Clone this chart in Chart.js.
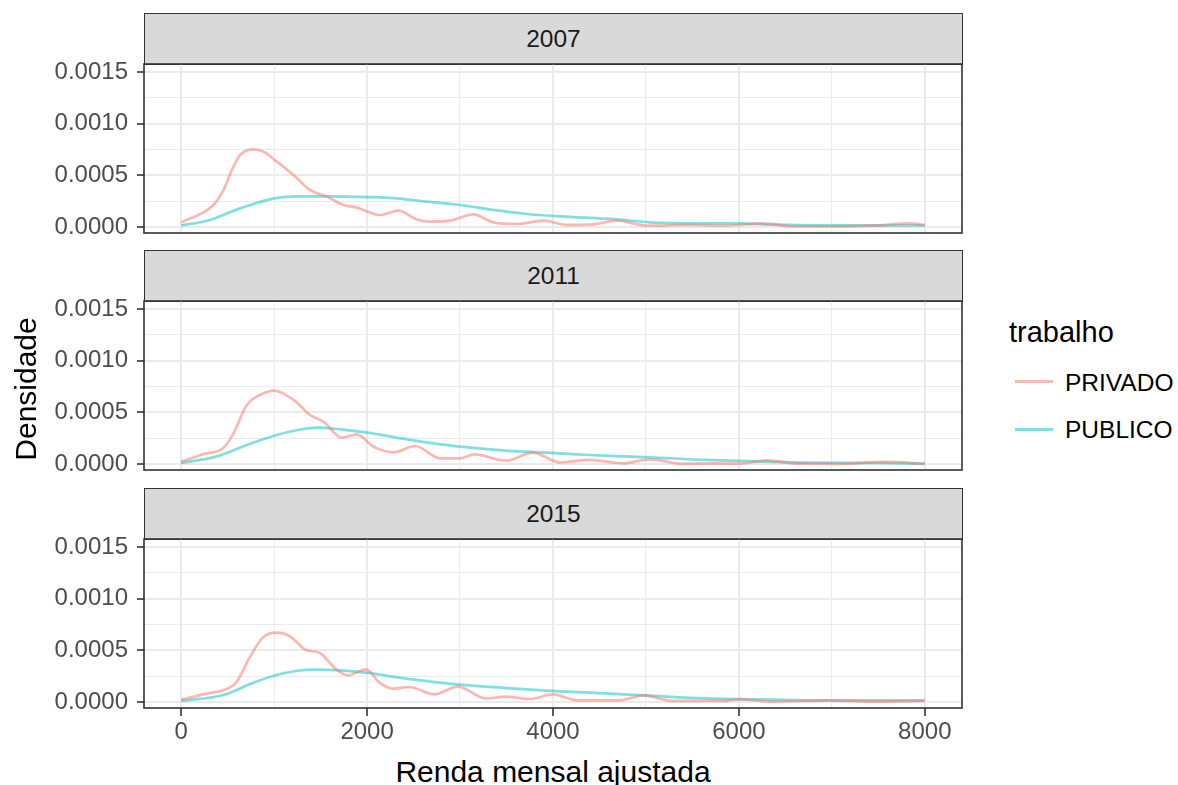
<!DOCTYPE html>
<html>
<head>
<meta charset="utf-8">
<script src="https://cdn.jsdelivr.net/npm/chart.js@4"></script>
<style>
  body { margin: 0; background: #fff; font-family: "Liberation Sans", Arial, sans-serif; }
  #wrap { position: relative; width: 1178px; height: 785px; overflow: hidden; }
  canvas { position: absolute; left: 0; }
  .strip { position: absolute; left: 144px; width: 817px; height: 50px; background: #d9d9d9;
    border: 1px solid #333; color: #1a1a1a; font-size: 24.5px; line-height: 50px; text-align: center; }
  .txt { position: absolute; white-space: nowrap; }
  .key { position: absolute; left: 1015px; width: 38px; height: 3px; }
</style>
</head>
<body>
<div id="wrap">
  <div class="strip" style="top:13px">2007</div>
  <div class="strip" style="top:250px">2011</div>
  <div class="strip" style="top:488px">2015</div>
  <canvas id="p0"></canvas>
  <canvas id="p1"></canvas>
  <canvas id="p2"></canvas>
  <div class="txt" style="left:-74px;top:374px;width:200px;height:30px;line-height:30px;text-align:center;font-size:30px;color:#000;transform:rotate(-90deg);">Densidade</div>
  <div class="txt" style="left:353px;top:757px;width:400px;line-height:30px;text-align:center;font-size:30px;color:#000;">Renda mensal ajustada</div>
  <div class="txt" style="left:1009px;top:318px;line-height:29px;font-size:29px;color:#000;">trabalho</div>
  <div class="key" style="top:379.5px;background:rgba(248,118,109,0.5)"></div>
  <div class="txt" style="left:1065px;top:371px;line-height:24.5px;font-size:24.5px;color:#000;">PRIVADO</div>
  <div class="key" style="top:428px;background:rgba(0,191,196,0.5)"></div>
  <div class="txt" style="left:1065px;top:418px;line-height:24.5px;font-size:24.5px;color:#000;">PUBLICO</div>
</div>
<script>
const years = ["2007", "2011", "2015"];
const seriesNames = ["PRIVADO", "PUBLICO"];

// densidade estimada
const priv2007X = [0, 347, 455, 545, 634, 778, 885, 1029, 1208, 1387, 1566, 1745, 1889, 2140, 2337, 2534, 2677, 2892, 3143, 3358, 3609, 3896, 4147, 4434, 4685, 5007, 5473, 5867, 6260, 6584, 7086, 7444, 7839, 8000];
const priv2007Y = [0.000045, 0.000213, 0.000358, 0.00055, 0.000697, 0.000752, 0.000729, 0.000632, 0.000503, 0.000358, 0.000294, 0.000213, 0.000187, 0.000116, 0.000158, 0.000074, 0.000052, 0.000061, 0.000123, 0.000045, 0.000029, 0.000061, 0.00002, 0.000026, 0.000061, 0.000013, 0.00002, 0.000013, 0.000035, 0.000006, 0.000006, 0.000013, 0.000035, 0.00002];
const publ2007X = [0, 269, 634, 1000, 1254, 1566, 2000, 2283, 2642, 3000, 3358, 3717, 4075, 4685, 5043, 5509, 6011, 6369, 6907, 7444, 8000];
const publ2007Y = [0.000016, 0.000058, 0.00018, 0.000277, 0.000297, 0.000297, 0.00029, 0.00028, 0.000245, 0.000213, 0.000165, 0.000126, 0.000103, 0.000074, 0.000045, 0.000035, 0.000035, 0.000023, 0.000016, 0.000016, 0.000016];

const priv2011X = [0, 233, 455, 563, 706, 849, 1000, 1208, 1387, 1530, 1728, 1889, 2068, 2283, 2516, 2785, 3000, 3154, 3495, 3781, 4075, 4398, 4756, 5043, 5401, 5760, 6011, 6297, 6656, 7086, 7588, 8000];
const priv2011Y = [0.000023, 0.000094, 0.000158, 0.000297, 0.000571, 0.000668, 0.00071, 0.00062, 0.000474, 0.00041, 0.000255, 0.000287, 0.000168, 0.000113, 0.000174, 0.000055, 0.000055, 0.000094, 0.000032, 0.00011, 0.000016, 0.000039, 0.000006, 0.000045, 0.000002, 0.000006, 0.000003, 0.000035, 0.000003, 0.000002, 0.00002, 0.000002];
const publ2011X = [0, 376, 706, 1000, 1254, 1470, 1720, 2000, 2427, 3000, 3495, 4075, 4398, 5043, 5652, 6190, 6728, 7444, 8000];
const publ2011Y = [0.00001, 0.000071, 0.000184, 0.000274, 0.000329, 0.000352, 0.000335, 0.000303, 0.000239, 0.000168, 0.000129, 0.000103, 0.000087, 0.000065, 0.000039, 0.000026, 0.000013, 0.00001, 0.000004];

const priv2015X = [0, 233, 484, 591, 735, 878, 1022, 1165, 1344, 1487, 1667, 1792, 1990, 2133, 2276, 2455, 2724, 2975, 3280, 3495, 3746, 4004, 4254, 4720, 4971, 5294, 5831, 6011, 6369, 6978, 7444, 8000];
const priv2015Y = [0.000023, 0.000074, 0.000123, 0.000187, 0.000429, 0.000623, 0.000671, 0.000639, 0.000503, 0.000477, 0.000316, 0.000258, 0.000316, 0.000187, 0.000129, 0.000145, 0.000074, 0.000148, 0.000035, 0.000052, 0.000029, 0.000074, 0.000016, 0.000016, 0.000065, 0.00001, 0.00001, 0.000026, 0.000003, 0.000016, 0.000003, 0.00001];
const publ2015X = [0, 455, 735, 985, 1236, 1452, 1703, 1990, 2419, 2993, 3495, 4075, 4398, 5043, 5652, 6369, 7086, 8000];
const publ2015Y = [0.00001, 0.000068, 0.000171, 0.000252, 0.0003, 0.000313, 0.000306, 0.000284, 0.000226, 0.000168, 0.000135, 0.000103, 0.00009, 0.000061, 0.000035, 0.000023, 0.000016, 0.000016];

const xTicks = [0, 2000, 4000, 6000, 8000];
const xMinor = [1000, 3000, 5000, 7000];
const yTicks = [0, 0.0005, 0.001, 0.0015];
const yMinor = [0.00025, 0.00075, 0.00125];

const panelData = [
  [[priv2007X, priv2007Y], [publ2007X, publ2007Y]],
  [[priv2011X, priv2011Y], [publ2011X, publ2011Y]],
  [[priv2015X, priv2015Y], [publ2015X, publ2015Y]]
];
const colors = ["rgba(248,118,109,0.52)", "rgba(0,191,196,0.5)"];
const panelTops = [64, 301, 539];
const PAD = 14;

function toPoints(xs, ys) {
  return xs.map((x, i) => ({ x: x, y: ys[i] }));
}

function tickList(major, minor) {
  return major.concat(minor).sort((a, b) => a - b).map(v => ({ value: v }));
}

// moldura do painel
const frame = {
  id: "frame",
  afterDraw(chart) {
    const a = chart.chartArea, c = chart.ctx;
    c.save();
    c.strokeStyle = "#333";
    c.lineWidth = 1.6;
    c.strokeRect(a.left, a.top, a.right - a.left, a.bottom - a.top);
    c.restore();
  }
};

const isMajorX = v => xTicks.includes(v);
const isMajorY = v => yTicks.includes(v);

years.forEach((yr, p) => {
  const last = p === years.length - 1;
  const canvas = document.getElementById("p" + p);
  const h = PAD + 169 + (last ? 40 : PAD);
  canvas.style.top = (panelTops[p] - PAD) + "px";
  canvas.width = 975;
  canvas.height = h;
  canvas.style.width = "975px";
  canvas.style.height = h + "px";

  new Chart(canvas.getContext("2d"), {
    type: "line",
    data: {
      datasets: seriesNames.map((name, s) => ({
        label: name,
        data: toPoints(panelData[p][s][0], panelData[p][s][1]),
        borderColor: colors[s],
        borderWidth: 2.7,
        pointRadius: 0,
        fill: false,
        cubicInterpolationMode: "monotone"
      }))
    },
    options: {
      responsive: false,
      animation: false,
      layout: { padding: { top: PAD, bottom: last ? 0 : PAD, right: 13, left: 0 } },
      plugins: { legend: { display: false }, tooltip: { enabled: false } },
      scales: {
        x: {
          type: "linear",
          min: -400,
          max: 8400,
          afterBuildTicks: s => { s.ticks = tickList(xTicks, xMinor); },
          ticks: {
            display: last,
            autoSkip: false,
            maxRotation: 0,
            padding: 2,
            color: "#4d4d4d",
            font: { family: "Liberation Sans", size: 24 },
            callback: v => (isMajorX(v) ? String(v) : "")
          },
          grid: {
            color: "#ebebeb",
            lineWidth: c => (isMajorX(c.tick.value) ? 2 : 1.1),
            drawTicks: last,
            tickLength: 8,
            tickColor: c => (isMajorX(c.tick.value) ? "#333" : "rgba(0,0,0,0)"),
            tickWidth: 1.6
          },
          border: { display: false },
          afterFit: s => {
            s.height = last ? 40 : 0;
            s.paddingLeft = 0;
            s.paddingRight = 0;
          }
        },
        y: {
          min: -0.000058,
          max: 0.001577,
          afterBuildTicks: s => { s.ticks = tickList(yTicks, yMinor); },
          ticks: {
            autoSkip: false,
            padding: 9,
            color: "#4d4d4d",
            font: { family: "Liberation Sans", size: 24 },
            callback: v => (isMajorY(v) ? v.toFixed(4) : "")
          },
          grid: {
            color: "#ebebeb",
            lineWidth: c => (isMajorY(c.tick.value) ? 2 : 1.1),
            tickLength: 7,
            tickColor: c => (isMajorY(c.tick.value) ? "#333" : "rgba(0,0,0,0)"),
            tickWidth: 1.6
          },
          border: { display: false },
          afterFit: s => {
            s.width = 144;
            s.paddingTop = 0;
            s.paddingBottom = 0;
          }
        }
      }
    },
    plugins: [frame]
  });
});
</script>
</body>
</html>
